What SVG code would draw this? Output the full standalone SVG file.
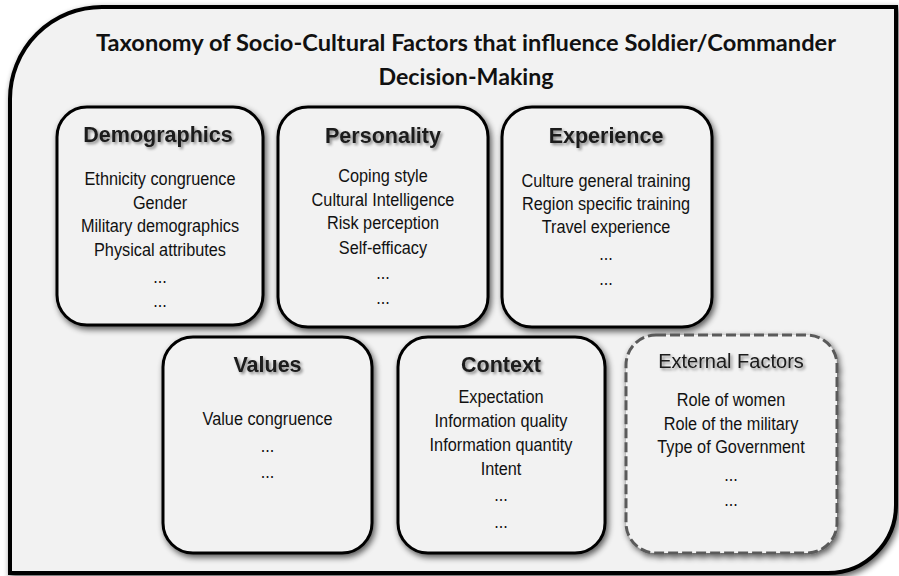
<svg xmlns="http://www.w3.org/2000/svg" width="899" height="576" viewBox="0 0 899 576">
<defs>
<filter id="sh" x="-15%" y="-15%" width="135%" height="135%">
<feGaussianBlur in="SourceAlpha" stdDeviation="3"/>
<feOffset dx="2" dy="3" result="b"/>
<feComponentTransfer in="b" result="c"><feFuncA type="linear" slope="0.65"/></feComponentTransfer>
<feMerge><feMergeNode in="c"/><feMergeNode in="SourceGraphic"/></feMerge>
</filter>
<filter id="tsh" x="-10%" y="-30%" width="125%" height="170%">
<feGaussianBlur in="SourceAlpha" stdDeviation="1.5"/>
<feOffset dx="2" dy="2" result="b"/>
<feComponentTransfer in="b" result="c"><feFuncA type="linear" slope="0.45"/></feComponentTransfer>
<feMerge><feMergeNode in="c"/><feMergeNode in="SourceGraphic"/></feMerge>
</filter>
</defs>
<style>
.frame{fill:#f2f2f2;stroke:#000;stroke-width:4}
.box{fill:#f2f2f2;stroke:#000;stroke-width:3}
.dbox{fill:#f2f2f2;stroke:#5a5a5a;stroke-width:3;stroke-dasharray:10 4}
.title{font-family:Lato,"Open Sans",sans-serif;font-weight:bold;font-size:23px;fill:#111;text-anchor:middle}
.hd{font-family:"Liberation Sans",Arial,sans-serif;font-weight:bold;font-size:21.5px;fill:#1a1a1a;text-anchor:middle}
.hdr{font-family:"Liberation Sans",Arial,sans-serif;font-size:20px;fill:#1a1a1a;text-anchor:middle}
.it{font-family:"Liberation Sans",Arial,sans-serif;font-size:18.5px;fill:#111;text-anchor:middle}
</style>
<rect width="899" height="576" fill="#ffffff"/>
<g id="frame">
<path class="frame" filter="url(#sh)" d="M10,99 A92,92 0 0 1 102,7 L896,7 L896,505 A68,68 0 0 1 828,573 L10,573 Z"/>
<text class="title" x="466" y="51" textLength="740" lengthAdjust="spacingAndGlyphs">Taxonomy of Socio-Cultural Factors that influence Soldier/Commander</text>
<text class="title" x="466" y="85" textLength="175" lengthAdjust="spacingAndGlyphs">Decision-Making</text>
</g>
<g id="connectors"></g>
<g id="demographics">
<rect class="box" filter="url(#sh)" x="57" y="107" width="206" height="218" rx="30"/>
<text class="hd" filter="url(#tsh)" x="158" y="142">Demographics</text>
<g transform="translate(160,0) scale(0.88,1)">
<text class="it" x="0" y="185">Ethnicity congruence</text>
<text class="it" x="0" y="209">Gender</text>
<text class="it" x="0" y="232">Military demographics</text>
<text class="it" x="0" y="256">Physical attributes</text>
<text class="it" x="0" y="283">...</text>
<text class="it" x="0" y="307">...</text>
</g>
</g>
<g id="personality">
<rect class="box" filter="url(#sh)" x="278" y="107" width="210" height="220" rx="30"/>
<text class="hd" filter="url(#tsh)" x="383" y="143">Personality</text>
<g transform="translate(383,0) scale(0.88,1)">
<text class="it" x="0" y="182">Coping style</text>
<text class="it" x="0" y="206">Cultural Intelligence</text>
<text class="it" x="0" y="229">Risk perception</text>
<text class="it" x="0" y="254">Self-efficacy</text>
<text class="it" x="0" y="279">...</text>
<text class="it" x="0" y="304">...</text>
</g>
</g>
<g id="experience">
<rect class="box" filter="url(#sh)" x="502" y="107" width="210" height="220" rx="30"/>
<text class="hd" filter="url(#tsh)" x="606" y="143">Experience</text>
<g transform="translate(606,0) scale(0.88,1)">
<text class="it" x="0" y="187">Culture general training</text>
<text class="it" x="0" y="210">Region specific training</text>
<text class="it" x="0" y="233">Travel experience</text>
<text class="it" x="0" y="260">...</text>
<text class="it" x="0" y="285">...</text>
</g>
</g>
<g id="values">
<rect class="box" filter="url(#sh)" x="163" y="337" width="209" height="216" rx="30"/>
<text class="hd" filter="url(#tsh)" x="267.5" y="372">Values</text>
<g transform="translate(267.5,0) scale(0.88,1)">
<text class="it" x="0" y="425">Value congruence</text>
<text class="it" x="0" y="452">...</text>
<text class="it" x="0" y="478">...</text>
</g>
</g>
<g id="context">
<rect class="box" filter="url(#sh)" x="398" y="337" width="207" height="216" rx="30"/>
<text class="hd" filter="url(#tsh)" x="501" y="372">Context</text>
<g transform="translate(501,0) scale(0.88,1)">
<text class="it" x="0" y="403">Expectation</text>
<text class="it" x="0" y="427">Information quality</text>
<text class="it" x="0" y="451">Information quantity</text>
<text class="it" x="0" y="475">Intent</text>
<text class="it" x="0" y="501">...</text>
<text class="it" x="0" y="528">...</text>
</g>
</g>
<g id="external-factors">
<rect class="dbox" filter="url(#sh)" x="626" y="335" width="211" height="218" rx="30"/>
<text class="hdr" filter="url(#tsh)" x="731" y="368">External Factors</text>
<g transform="translate(731,0) scale(0.88,1)">
<text class="it" x="0" y="406">Role of women</text>
<text class="it" x="0" y="430">Role of the military</text>
<text class="it" x="0" y="453">Type of Government</text>
<text class="it" x="0" y="481">...</text>
<text class="it" x="0" y="506">...</text>
</g>
</g>
</svg>
